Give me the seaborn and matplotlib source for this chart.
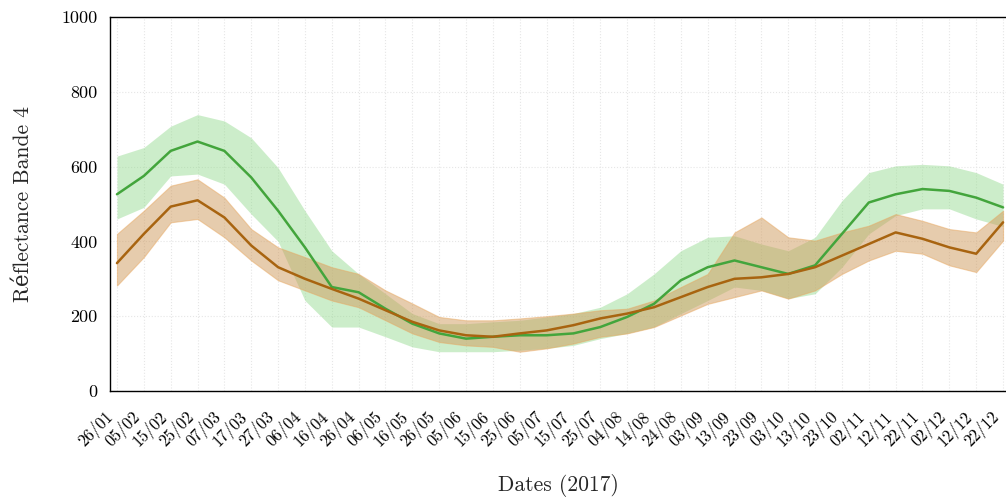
import numpy as np
import pandas as pd
import matplotlib
matplotlib.use("Agg")
import matplotlib.pyplot as plt
import seaborn as sns

dates = ["26/01", "05/02", "15/02", "25/02", "07/03", "17/03", "27/03", "06/04",
         "16/04", "26/04", "06/05", "16/05", "26/05", "05/06", "15/06", "25/06",
         "05/07", "15/07", "25/07", "04/08", "14/08", "24/08", "03/09", "13/09",
         "23/09", "03/10", "13/10", "23/10", "02/11", "12/11", "22/11", "02/12",
         "12/12", "22/12"]

green_mean = [526, 575, 642, 667, 642, 571, 482, 384, 278, 264, 220, 180, 154,
              140, 145, 149, 149, 154, 171, 198, 233, 296, 331, 349, 331, 313,
              336, 420, 504, 526, 540, 535, 517, 491]
green_upper = [628, 651, 708, 739, 722, 677, 597, 482, 375, 313, 260, 207, 180,
               180, 185, 189, 198, 207, 224, 260, 313, 375, 411, 415, 393, 375,
               411, 509, 584, 602, 606, 602, 584, 553]
green_lower = [460, 491, 575, 580, 553, 473, 400, 242, 171, 171, 145, 118, 105,
               105, 105, 109, 114, 122, 140, 154, 171, 207, 242, 278, 269, 247,
               260, 331, 420, 469, 487, 487, 460, 440]

brown_mean = [342, 420, 493, 510, 464, 389, 331, 300, 273, 247, 216, 185, 162,
              149, 145, 154, 162, 176, 194, 207, 224, 251, 278, 300, 304, 313,
              331, 362, 393, 424, 407, 384, 367, 451]
brown_upper = [420, 482, 549, 566, 517, 433, 384, 358, 331, 313, 269, 234, 198,
               189, 189, 194, 200, 207, 216, 220, 242, 278, 313, 424, 464, 411,
               402, 424, 442, 473, 455, 433, 424, 482]
brown_lower = [282, 358, 451, 460, 411, 349, 296, 269, 242, 224, 189, 154, 131,
               122, 118, 105, 114, 127, 145, 154, 171, 202, 233, 251, 269, 247,
               269, 313, 349, 375, 367, 336, 318, 402]

yticks = [0, 200, 400, 600, 800, 1000]

sns.set_style("white")
plt.rcParams["font.family"] = ["cmr10", "DejaVu Serif"]
plt.rcParams["axes.formatter.use_mathtext"] = True

fig = plt.figure(figsize=(10.06, 5.04), dpi=100)
ax = fig.add_axes([110 / 1006, 1 - 391 / 504, (1006 - 110) / 1006, (391 - 17) / 504])

x = np.arange(len(dates))
df = pd.DataFrame({
    "x": np.concatenate([x, x]),
    "val": green_mean + brown_mean,
    "cls": ["g"] * len(x) + ["b"] * len(x),
})

ax.fill_between(x, green_lower, green_upper, color="#8fd98a", alpha=0.45, linewidth=0)
ax.fill_between(x, brown_lower, brown_upper, color="#cf9a5c", alpha=0.5,
                edgecolor="#e8a860", linewidth=0.8)

sns.lineplot(data=df, x="x", y="val", hue="cls", palette={"g": "#43a53c", "b": "#a86410"},
             linewidth=1.8, ax=ax, legend=False)

ax.set_xlim(-0.26, 33.11)
ax.set_ylim(0, 1000)
ax.set_xticks(x)
ax.set_xticklabels(dates, rotation=45, ha="right", fontsize=12)
ax.set_yticks(yticks)
ax.set_yticklabels([str(v) for v in yticks], fontsize=13)
ax.tick_params(axis="both", direction="out", length=4, width=1, colors="black", pad=5)
ax.tick_params(axis="x", pad=8)

ax.grid(True, color="#e6e6e6", linestyle=":", linewidth=0.8)
ax.set_axisbelow(True)
for s in ["left", "bottom", "top"]:
    ax.spines[s].set_color("black")
    ax.spines[s].set_linewidth(1.0)
ax.spines["right"].set_visible(False)

ax.set_xlabel("Dates (2017)", fontsize=15.5, labelpad=17)
ax.set_ylabel("Réflectance Bande 4", fontsize=15.5, labelpad=20)

fig.savefig("out.png", dpi=100)
